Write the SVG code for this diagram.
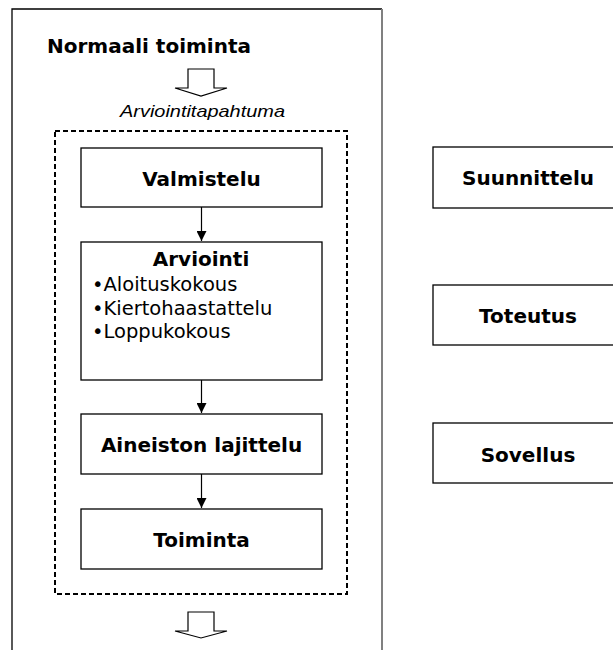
<svg xmlns="http://www.w3.org/2000/svg" width="613" height="650" viewBox="0 0 613 650">
<style>
.box{fill:#fff;stroke:#000;stroke-width:1.3}
.b{font-family:"DejaVu Sans",Verdana,sans-serif;font-weight:bold;font-size:20px;fill:#000}
.n{font-family:"DejaVu Sans",Verdana,sans-serif;font-size:19.5px;fill:#000}
.it{font-family:"Liberation Sans",Arial,sans-serif;font-style:italic;font-size:16.5px;fill:#000}
.conn{stroke:#000;stroke-width:1.2;fill:none}
.blk{fill:#fff;stroke:#000;stroke-width:1.2;stroke-linejoin:miter}
</style>
<defs>
<marker id="ah" viewBox="0 0 10 10" refX="10" refY="5" markerWidth="10" markerHeight="10" markerUnits="userSpaceOnUse" orient="auto">
<path d="M0,0 L10,5 L0,10 Z" fill="#000"/>
</marker>
</defs>
<rect width="613" height="650" fill="#fff"/>
<g id="outer">
<path d="M12,660 L12,9 L382,9" fill="none" stroke="#000" stroke-width="1.3"/>
<line x1="382" y1="9" x2="382" y2="660" stroke="#808080" stroke-width="2"/>
<text class="b" x="47" y="53">Normaali toiminta</text>
</g>
<g id="arrow-top">
<polygon class="blk" points="188,69 214,69 214,88 227,88 201,96 175,88 188,88"/>
</g>
<text id="label-event" class="it" x="120" y="117" textLength="165" lengthAdjust="spacingAndGlyphs">Arviointitapahtuma</text>
<g id="group-event">
<rect x="55" y="131" width="292" height="463" fill="none" stroke="#000" stroke-width="2" stroke-dasharray="5,3"/>
</g>
<g id="valmistelu">
<rect class="box" x="81" y="148" width="241" height="59"/>
<text class="b" x="201.5" y="186" text-anchor="middle">Valmistelu</text>
</g>
<g id="arviointi">
<rect class="box" x="81" y="242" width="241" height="138"/>
<text class="b" x="201" y="266" text-anchor="middle">Arviointi</text>
<text class="n" x="92" y="291">•Aloituskokous</text>
<text class="n" x="92" y="315">•Kiertohaastattelu</text>
<text class="n" x="92" y="338">•Loppukokous</text>
</g>
<g id="aineisto">
<rect class="box" x="81" y="414" width="241" height="60"/>
<text class="b" x="201.5" y="452" text-anchor="middle">Aineiston lajittelu</text>
</g>
<g id="toiminta">
<rect class="box" x="81" y="509" width="241" height="60"/>
<text class="b" x="201.5" y="547" text-anchor="middle">Toiminta</text>
</g>
<g id="arrow-bottom">
<polygon class="blk" points="188,612 214,612 214,631 227,631 201,638 175,631 188,631"/>
</g>
<g id="suunnittelu">
<rect class="box" x="433" y="147" width="190" height="61"/>
<text class="b" x="528" y="185" text-anchor="middle">Suunnittelu</text>
</g>
<g id="toteutus">
<rect class="box" x="433" y="285" width="190" height="60"/>
<text class="b" x="528" y="323" text-anchor="middle">Toteutus</text>
</g>
<g id="sovellus">
<rect class="box" x="433" y="423" width="190" height="60"/>
<text class="b" x="528" y="462" text-anchor="middle">Sovellus</text>
</g>
<g id="connectors">
<line class="conn" x1="201.5" y1="207" x2="201.5" y2="241" marker-end="url(#ah)"/>
<line class="conn" x1="201.5" y1="380" x2="201.5" y2="413" marker-end="url(#ah)"/>
<line class="conn" x1="201.5" y1="474" x2="201.5" y2="508" marker-end="url(#ah)"/>
</g>
</svg>
